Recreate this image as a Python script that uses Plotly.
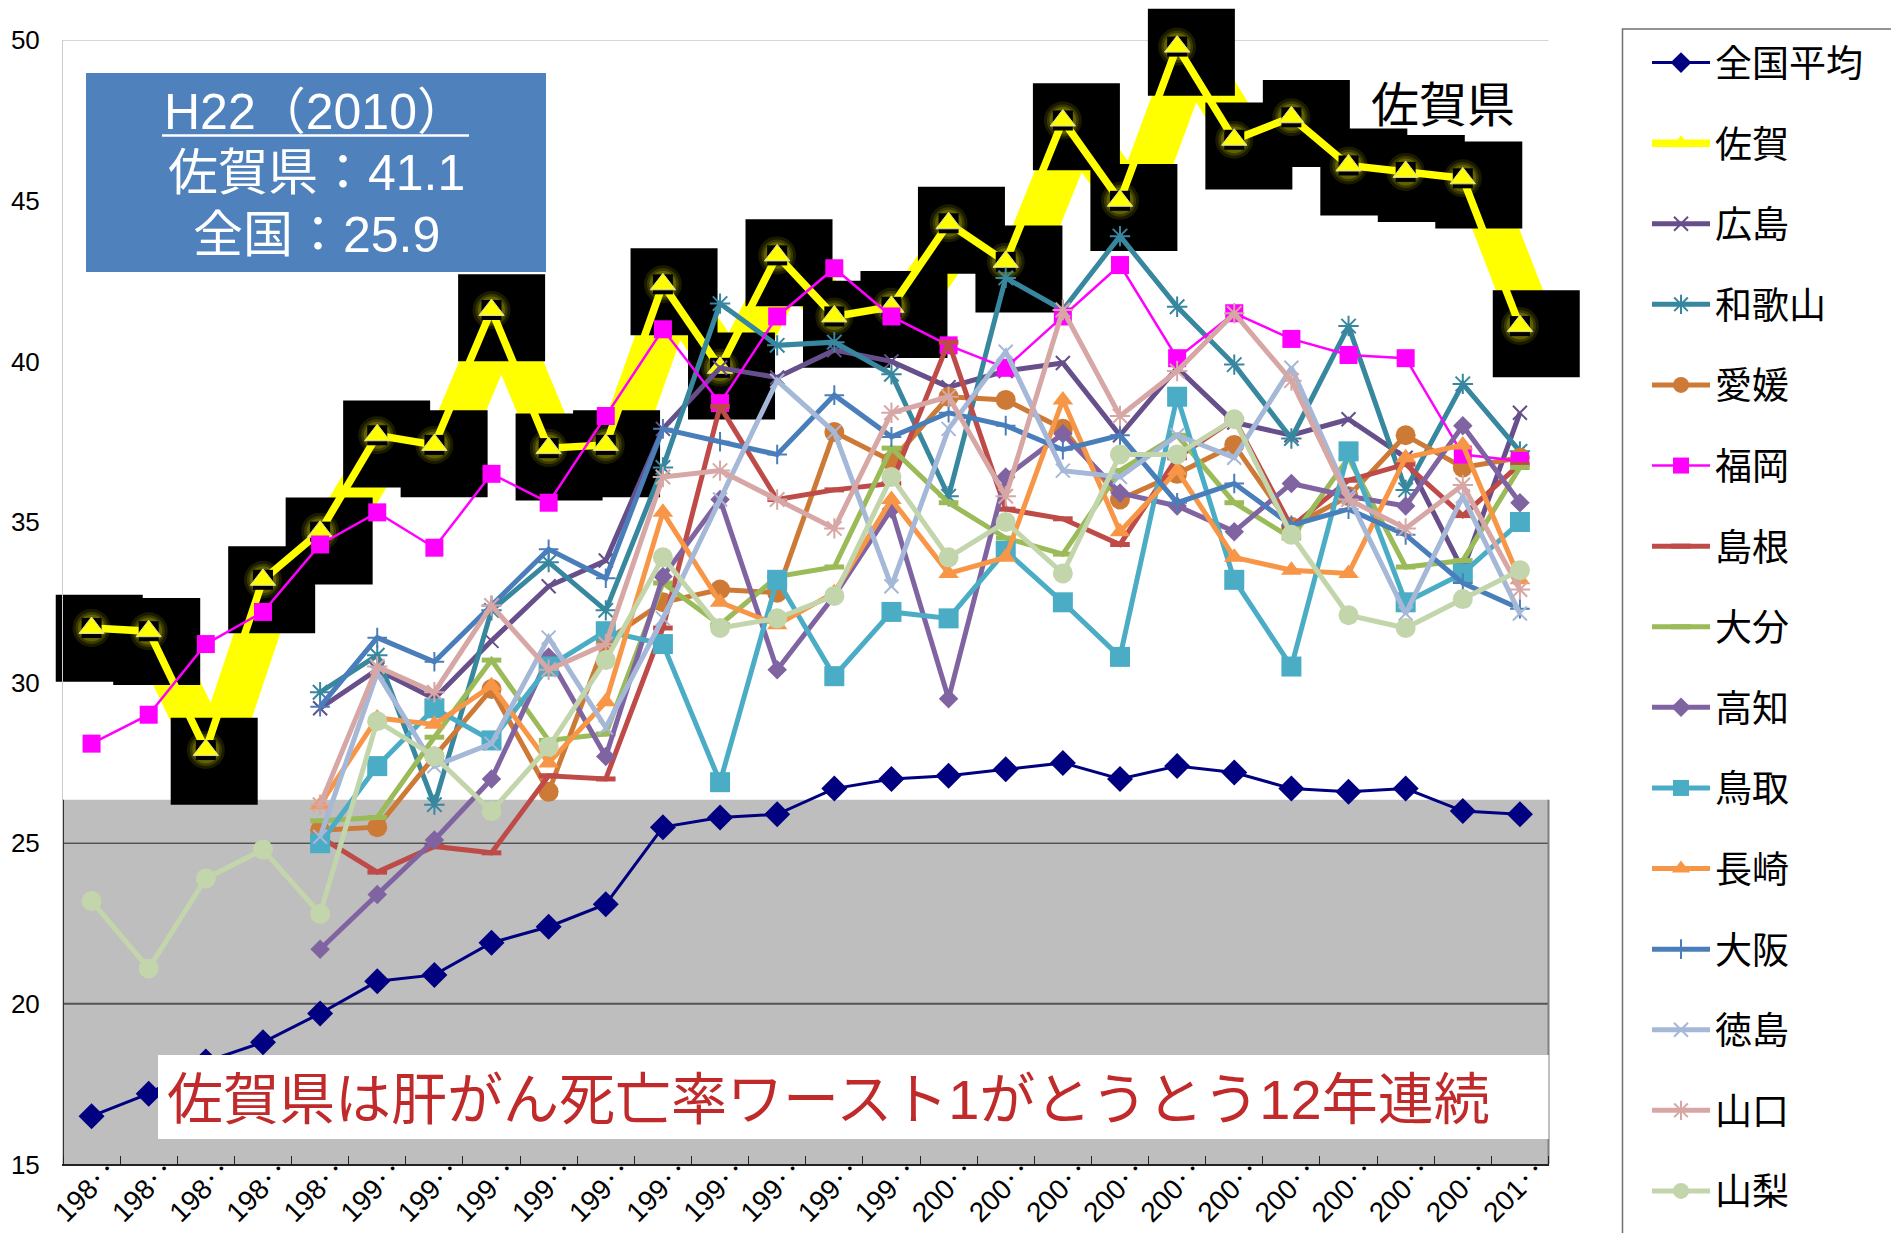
import plotly.graph_objects as go

years = list(range(1985, 2011))
year_labels = ["198‥"] * 5 + ["199‥"] * 10 + ["200‥"] * 10 + ["201‥"]
y_ticks = [15, 20, 25, 30, 35, 40, 45, 50]

national = [16.5, 17.2, 18.2, 18.8, 19.7, 20.7, 20.9, 21.9, 22.4, 23.1, 25.5, 25.8, 25.9,
            26.7, 27.0, 27.1, 27.3, 27.5, 27.0, 27.4, 27.2, 26.7, 26.6, 26.7, 26.0, 25.9]
saga = [31.7, 31.6, 27.9, 33.2, 34.7, 37.7, 37.4, 41.6, 37.3, 37.4, 42.4, 39.8, 43.3,
        41.4, 41.7, 44.3, 43.1, 47.5, 45.0, 49.8, 46.9, 47.6, 46.1, 45.9, 45.7, 41.1]
hiroshima = [None] * 4 + [29.2, 30.4, 29.5, 31.3, 33.0, 33.8, 37.9, 39.8, 39.5, 40.35, 40.0,
                          39.2, 39.7, 39.95, 37.7, 39.8, 38.1, 37.7, 38.2, 37.0, 33.5, 38.4]
wakayama = [None] * 4 + [29.7, 30.85, 26.2, 32.25, 33.75, 32.25, 36.7, 41.8, 40.5, 40.6, 39.6,
                         35.8, 42.6, 41.6, 43.9, 41.7, 39.9, 37.6, 41.1, 36.0, 39.3, 37.2]
ehime = [None] * 4 + [25.4, 25.5, 27.7, 29.8, 26.6, 31.3, 32.5, 32.9, 32.8, 37.8, 36.9,
                      38.9, 38.8, 37.9, 35.7, 36.5, 37.4, 34.85, 35.8, 37.7, 36.7, 37.0]
fukuoka = [28.1, 29.0, 31.2, 32.2, 34.3, 35.3, 34.2, 36.5, 35.6, 38.3, 41.0, 38.7, 41.4,
           42.9, 41.4, 40.5, 39.8, 41.4, 43.0, 40.1, 41.5, 40.7, 40.2, 40.1, 37.1, 36.9]
shimane = [None] * 4 + [25.2, 24.1, 24.9, 24.7, 27.1, 27.0, 31.7, 38.6, 35.7, 36.0, 36.2,
                        40.6, 35.4, 35.1, 34.3, 37.0, 38.2, 34.85, 36.3, 36.8, 35.2, 36.8]
oita = [None] * 4 + [25.7, 25.8, 28.3, 30.7, 28.2, 28.4, 33.1, 31.8, 33.3, 33.6, 37.3,
                     35.6, 34.5, 34.0, 36.6, 37.7, 35.6, 34.5, 37.0, 33.6, 33.8, 36.7]
kochi = [None] * 4 + [21.7, 23.4, 25.1, 27.0, 30.8, 27.7, 33.3, 35.7, 30.4, 32.7, 35.4,
                      29.5, 36.4, 37.75, 35.9, 35.5, 34.7, 36.2, 35.8, 35.5, 38.0, 35.6]
tottori = [None] * 4 + [25.0, 27.4, 29.2, 28.2, 30.5, 31.6, 31.2, 26.9, 33.2, 30.2, 32.2,
                        32.0, 34.1, 32.5, 30.8, 38.9, 33.2, 30.5, 37.2, 32.5, 33.4, 35.0]
nagasaki = [None] * 4 + [26.2, 28.9, 28.7, 29.9, 27.5, 29.4, 35.3, 32.5, 31.8, 32.8, 35.7,
                         33.4, 33.9, 38.8, 34.7, 36.6, 33.9, 33.5, 33.4, 37.0, 37.4, 33.2]
osaka = [None] * 4 + [29.25, 31.4, 30.65, 32.4, 34.15, 33.25, 37.9, 37.5, 37.1, 38.95, 37.65,
                      38.4, 38.0, 37.25, 37.7, 35.6, 36.2, 34.9, 35.4, 34.6, 33.1, 32.3]
tokushima = [None] * 4 + [25.2, 30.3, 27.4, 28.1, 31.4, 28.6, 32.0, 35.7, 39.4, 37.8, 33.0,
                          37.9, 40.3, 36.6, 36.4, 37.7, 37.0, 39.8, 35.8, 32.15, 35.8, 32.15]
yamaguchi = [None] * 4 + [26.2, 30.5, 29.7, 32.4, 30.4, 31.2, 36.4, 36.6, 35.7, 34.8, 38.4,
                          38.9, 35.8, 41.6, 38.3, 39.7, 41.5, 39.4, 35.7, 34.8, 36.15, 32.9]
yamanashi = [23.2, 21.1, 23.9, 24.8, 22.8, 28.8, 27.7, 26.0, 28.0, 30.7, 33.9, 31.7, 32.0,
             32.7, 36.4, 33.9, 35.0, 33.4, 37.1, 37.1, 38.2, 34.6, 32.1, 31.7, 32.6, 33.5]

# name, values, colour, line width, marker symbol, marker size, marker stroke
series = [
    ("全国平均", national, "#000080", 3, "diamond", 20, 0),
    ("佐賀", saga, "#FFFF00", 7.5, "triangle-up", 21, 0),
    ("広島", hiroshima, "#664F8A", 5, "x-thin-open", 14, 2),
    ("和歌山", wakayama, "#37879F", 5, "asterisk-open", 17, 2),
    ("愛媛", ehime, "#CD7A36", 5, "circle", 20, 0),
    ("福岡", fukuoka, "#FF00FF", 2.5, "square", 18, 0),
    ("島根", shimane, "#BE4B48", 5, "line-ew-open", 14, 5),
    ("大分", oita, "#9BBB59", 5, "line-ew-open", 14, 5),
    ("高知", kochi, "#8064A2", 5, "diamond", 15, 0),
    ("鳥取", tottori, "#4BACC6", 5, "square", 20, 0),
    ("長崎", nagasaki, "#F79646", 5, "triangle-up", 18, 0),
    ("大阪", osaka, "#4A7EBB", 5, "cross-thin-open", 14, 2),
    ("徳島", tokushima, "#A5B8D7", 5, "x-thin-open", 14, 2),
    ("山口", yamaguchi, "#D7A7A6", 5, "asterisk-open", 17, 2),
    ("山梨", yamanashi, "#C3D5AB", 5, "circle", 20, 0),
]

WIDTH, HEIGHT = 1891, 1233
M_L, M_R, M_T, M_B = 40, 300, 4, 40
PLOT_W = WIDTH - M_L - M_R
PLOT_H = HEIGHT - M_T - M_B
TEXT_FONT = "Liberation Sans, Noto Sans CJK JP, sans-serif"


def px_x(x):
    return (x - M_L) / PLOT_W


def px_y(y):
    return (HEIGHT - M_B - y) / PLOT_H


AX_LEFT, AX_RIGHT, AX_TOP, AX_BOTTOM = 63, 1548.5, 40.2, 1164.4

fig = go.Figure()

# Thick yellow band and black blocks behind the Saga line, on slightly displaced axes
fig.add_trace(go.Scatter(
    x=years, y=saga, xaxis="x", yaxis="y", mode="lines", showlegend=False, hoverinfo="skip",
    cliponaxis=False, line=dict(color="#FFFF00", width=44),
))
fig.add_trace(go.Scatter(
    x=years, y=saga, xaxis="x", yaxis="y", mode="markers", showlegend=False, hoverinfo="skip",
    cliponaxis=False, marker=dict(symbol="square", size=87, color="#000000"),
))
# Soft halo around the Saga markers
for halo_size, halo_alpha in [(38, 0.1), (32, 0.14), (27, 0.2)]:
    fig.add_trace(go.Scatter(
        x=years, y=saga, xaxis="x2", yaxis="y2", mode="markers", showlegend=False,
        hoverinfo="skip", cliponaxis=False,
        marker=dict(symbol="circle", size=halo_size, color=f"rgba(255,255,0,{halo_alpha})"),
    ))

for name, values, color, lw, symbol, msize, stroke in series:
    marker = dict(symbol=symbol, size=msize, color=color)
    if stroke:
        marker["line"] = dict(color=color, width=stroke)
    fig.add_trace(go.Scatter(
        x=years, y=values, name=name, xaxis="x2", yaxis="y2", mode="lines+markers",
        legendgroup=name, cliponaxis=False, connectgaps=False,
        line=dict(color=color, width=lw), marker=marker,
    ))
    if name == "佐賀":
        # dark plate and edged triangle sitting on the Saga line
        fig.add_trace(go.Scatter(
            x=years, y=saga, xaxis="x2", yaxis="y2", mode="markers", showlegend=False,
            hoverinfo="skip", cliponaxis=False,
            marker=dict(symbol="square", size=20, color="#000000"),
        ))
        fig.add_trace(go.Scatter(
            x=years, y=saga, xaxis="x2", yaxis="y2", mode="markers", showlegend=False,
            hoverinfo="skip", cliponaxis=False,
            marker=dict(symbol="triangle-up", size=22, color="#FFFF00",
                        line=dict(color="#D8D8B0", width=1)),
        ))

shapes = [
    # grey lower band, its gridlines and frame
    dict(type="rect", xref="paper", yref="y2", x0=px_x(AX_LEFT), x1=px_x(AX_RIGHT), y0=15, y1=26.35,
         fillcolor="#BEBEBE", line_width=0, layer="below"),
    dict(type="line", xref="paper", yref="y2", x0=px_x(AX_LEFT), x1=px_x(AX_RIGHT), y0=25, y1=25,
         line=dict(color="#222222", width=1), layer="below"),
    dict(type="line", xref="paper", yref="y2", x0=px_x(AX_LEFT), x1=px_x(AX_RIGHT), y0=20, y1=20,
         line=dict(color="#555555", width=2), layer="below"),
    dict(type="line", xref="paper", yref="y2", x0=px_x(AX_LEFT), x1=px_x(AX_RIGHT), y0=50, y1=50,
         line=dict(color="#C8C8C8", width=1.5), layer="below"),
    dict(type="line", xref="paper", yref="y2", x0=px_x(AX_RIGHT), x1=px_x(AX_RIGHT), y0=15, y1=26.35,
         line=dict(color="#808080", width=2), layer="below"),
    dict(type="line", xref="paper", yref="y2", x0=px_x(AX_LEFT), x1=px_x(AX_LEFT), y0=15, y1=26.35,
         line=dict(color="#333333", width=2), layer="below"),
    # annotation boxes
    dict(type="rect", xref="paper", yref="paper", x0=px_x(86), x1=px_x(546), y0=px_y(73), y1=px_y(272),
         fillcolor="#4F81BD", line_width=0, layer="above"),
    dict(type="line", xref="paper", yref="paper", x0=px_x(162), x1=px_x(469), y0=px_y(135.5), y1=px_y(135.5),
         line=dict(color="#FFFFFF", width=2.5), layer="above"),
    dict(type="rect", xref="paper", yref="paper", x0=px_x(158), x1=px_x(AX_RIGHT), y0=px_y(1055), y1=px_y(1139),
         fillcolor="#FFFFFF", line_width=0, layer="above"),
    # legend frame, running off the page
    dict(type="rect", xref="paper", yref="paper", x0=px_x(1622.5), x1=px_x(1960), y0=px_y(29), y1=px_y(1290),
         fillcolor="rgba(0,0,0,0)", line=dict(color="#707070", width=1.5), layer="below"),
]


def note(text, x, y, size, color):
    return dict(text=text, xref="paper", yref="paper", x=px_x(x), y=px_y(y), xanchor="center",
                yanchor="middle", showarrow=False, font=dict(size=size, color=color, family=TEXT_FONT))


annotations = [
    note("H22（2010）", 315, 112, 50, "#FFFFFF"),
    note("佐賀県：41.1", 316, 173, 50, "#FFFFFF"),
    note("全国：25.9", 316, 235, 50, "#FFFFFF"),
    note("佐賀県", 1443, 106, 48, "#000000"),
    note("佐賀県は肝がん死亡率ワースト1がとうとう12年連続", 828, 1099, 56, "#C02A2A"),
]

RANGE_X = [1984.5, 2010.5]
RANGE_Y = [15, 50]

fig.update_layout(
    width=WIDTH, height=HEIGHT, autosize=False,
    margin=dict(l=M_L, r=M_R, t=M_T, b=M_B, autoexpand=False),
    paper_bgcolor="#FFFFFF", plot_bgcolor="rgba(0,0,0,0)",
    font=dict(family=TEXT_FONT, color="#000000"),
    shapes=shapes, annotations=annotations,
    xaxis=dict(domain=[px_x(AX_LEFT + 7.5), px_x(AX_RIGHT + 16.5)], range=RANGE_X, visible=False, anchor="y"),
    yaxis=dict(domain=[px_y(AX_BOTTOM + 14.5), px_y(AX_TOP + 5.5)], range=RANGE_Y, visible=False, anchor="x"),
    xaxis2=dict(
        domain=[px_x(AX_LEFT), px_x(AX_RIGHT)], range=RANGE_X, anchor="y2", showgrid=False, zeroline=False,
        tickmode="array", tickvals=years, ticktext=year_labels, tickangle=-45, ticks="", ticklen=0,
        ticklabelshift=18, ticklabelstandoff=-25,
        tickfont=dict(size=28, family=TEXT_FONT), showline=True, linecolor="#222222", linewidth=2,
        minor=dict(ticks="inside", tick0=1984.5, dtick=1, ticklen=8, tickcolor="#222222", tickwidth=1, showgrid=False),
    ),
    yaxis2=dict(
        domain=[px_y(AX_BOTTOM), px_y(AX_TOP)], range=RANGE_Y, anchor="x2", showgrid=False, zeroline=False,
        tickmode="array", tickvals=y_ticks, ticks="", ticklabelstandoff=17,
        tickfont=dict(size=26, family=TEXT_FONT), showline=True, linecolor="#CCCCCC", linewidth=1,
    ),
    legend=dict(
        x=px_x(1647), y=px_y(32), xanchor="left", yanchor="top", bgcolor="rgba(0,0,0,0)", borderwidth=0,
        font=dict(size=37, family=TEXT_FONT), itemwidth=58, traceorder="grouped", tracegroupgap=29.5,
        maxheight=1300,
    ),
)

fig.write_html("out.html")
